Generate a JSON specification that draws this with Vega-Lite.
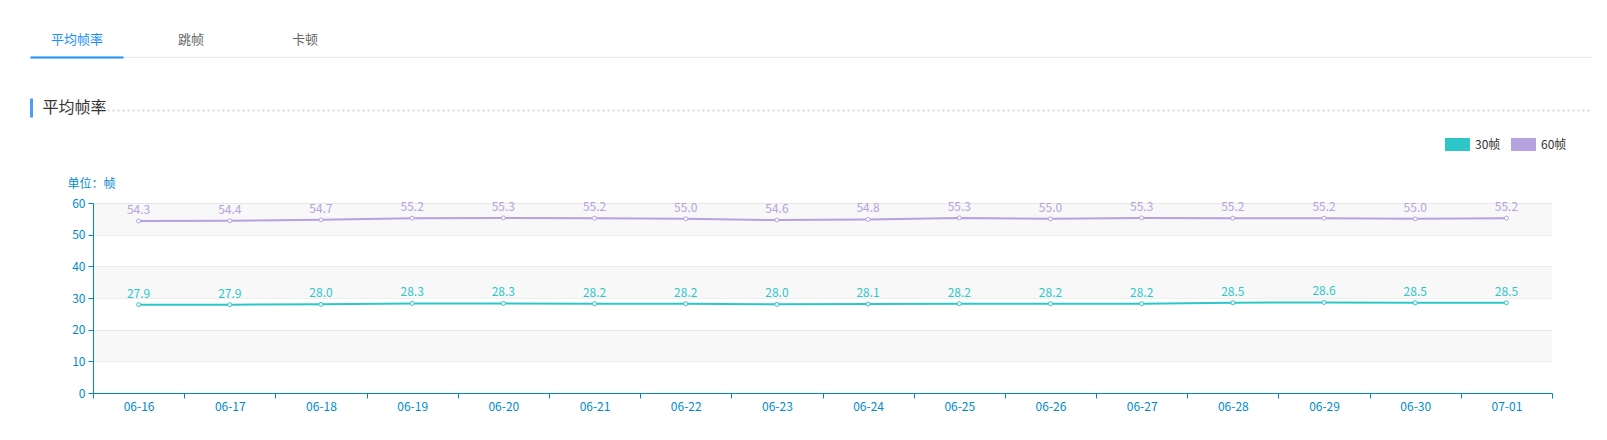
{
  "$schema": "https://vega.github.io/schema/vega-lite/v6.json",
  "width": 1459,
  "height": 190,
  "autosize": {"type": "none"},
  "padding": {"left": 93, "top": 203, "right": 55, "bottom": 47},
  "background": "white",
  "config": {"font": "Noto Sans CJK SC", "view": {"stroke": null}, "axis": {"grid": false}},
  "resolve": {"scale": {"x": "independent", "y": "independent"}},
  "layer": [
    {
      "data": {"values": [{"g": "line"}]},
      "mark": {"type": "point", "opacity": 0},
      "encoding": {
        "x": {
          "field": "g", "type": "nominal",
          "scale": {"type": "band", "domain": ["line"], "range": [-63, 1499]},
          "axis": {"orient": "top", "offset": 146, "title": null, "ticks": false, "labels": false, "domainColor": "#e3ebf3", "domainWidth": 1}
        }
      }
    },
    {
      "data": {"values": [{"tab": "平均帧率"}, {"tab": "跳帧"}, {"tab": "卡顿"}]},
      "mark": {"type": "point", "opacity": 0},
      "encoding": {
        "x": {
          "field": "tab", "type": "nominal", "sort": null,
          "scale": {"type": "band", "domain": ["平均帧率", "跳帧", "卡顿"], "range": [-73, 269], "paddingInner": 0, "paddingOuter": 0},
          "axis": {"orient": "top", "offset": 146, "title": null, "ticks": false, "tickSize": 0, "domain": false, "labelPadding": 11, "labelFontSize": 13, "labelAngle": 0, "labelFontWeight": "normal",
            "labelColor": {"condition": {"test": "datum.value === '平均帧率'", "value": "#1890ff"}, "value": "#666666"}}
        }
      }
    },
    {
      "data": {"values": [{"u": "active"}]},
      "mark": {"type": "point", "opacity": 0},
      "encoding": {
        "x": {
          "field": "u", "type": "nominal",
          "scale": {"type": "band", "domain": ["active"], "range": [-63, 30]},
          "axis": {"orient": "top", "offset": 146, "title": null, "ticks": false, "labels": false, "domainColor": "#1890ff", "domainWidth": 2, "zindex": 2}
        }
      }
    },
    {
      "data": {"values": [{"d": "section"}]},
      "mark": {"type": "point", "opacity": 0},
      "encoding": {
        "x": {
          "field": "d", "type": "nominal",
          "scale": {"type": "band", "domain": ["section"], "range": [14, 1499]},
          "axis": {"orient": "top", "offset": 93, "ticks": false, "labels": false, "domainColor": "#d9d9d9", "domainWidth": 2, "domainDash": [2, 3],
            "title": "平均帧率", "titleX": -51, "titleY": -3, "titleAlign": "left", "titleBaseline": "middle", "titleAngle": 0, "titleFontSize": 16, "titleFontWeight": "normal", "titleColor": "#333333"}
        }
      }
    },
    {
      "data": {"values": [{"s": "section"}]},
      "mark": {"type": "point", "opacity": 0},
      "encoding": {
        "y": {
          "field": "s", "type": "nominal",
          "scale": {"type": "band", "domain": ["section"], "range": [-86, -105]},
          "axis": {"orient": "left", "offset": 62, "title": null, "ticks": false, "labels": false, "domainColor": "#4f9cf7", "domainWidth": 3}
        }
      }
    },
    {
      "layer": [
        {
          "data": {"values": [{"lo": 10, "hi": 20}, {"lo": 30, "hi": 40}, {"lo": 50, "hi": 60}]},
          "mark": {"type": "rect", "fill": "#000000", "fillOpacity": 0.028},
          "encoding": {
            "y": {"field": "lo", "type": "quantitative", "scale": {"domain": [0, 60]},
              "axis": {"orient": "left", "values": [0, 10, 20, 30, 40, 50, 60], "grid": true, "gridColor": "#eeeeee", "tickSize": 5, "tickColor": "#008acd", "domainColor": "#008acd", "labelColor": "#008acd", "labelFontSize": 12, "labelPadding": 3, "zindex": 0,
                "title": "单位：帧", "titleAngle": 0, "titleX": -26, "titleY": -20, "titleAlign": "left", "titleBaseline": "middle", "titleFontSize": 12, "titleFontWeight": "normal", "titleColor": "#008acd"}},
            "y2": {"field": "hi"}
          }
        },
        {
          "data": {"values": [
            {"date": "06-16", "series": "30帧", "fps": 27.9},
            {"date": "06-17", "series": "30帧", "fps": 27.9},
            {"date": "06-18", "series": "30帧", "fps": 28.0},
            {"date": "06-19", "series": "30帧", "fps": 28.3},
            {"date": "06-20", "series": "30帧", "fps": 28.3},
            {"date": "06-21", "series": "30帧", "fps": 28.2},
            {"date": "06-22", "series": "30帧", "fps": 28.2},
            {"date": "06-23", "series": "30帧", "fps": 28.0},
            {"date": "06-24", "series": "30帧", "fps": 28.1},
            {"date": "06-25", "series": "30帧", "fps": 28.2},
            {"date": "06-26", "series": "30帧", "fps": 28.2},
            {"date": "06-27", "series": "30帧", "fps": 28.2},
            {"date": "06-28", "series": "30帧", "fps": 28.5},
            {"date": "06-29", "series": "30帧", "fps": 28.6},
            {"date": "06-30", "series": "30帧", "fps": 28.5},
            {"date": "07-01", "series": "30帧", "fps": 28.5},
            {"date": "06-16", "series": "60帧", "fps": 54.3},
            {"date": "06-17", "series": "60帧", "fps": 54.4},
            {"date": "06-18", "series": "60帧", "fps": 54.7},
            {"date": "06-19", "series": "60帧", "fps": 55.2},
            {"date": "06-20", "series": "60帧", "fps": 55.3},
            {"date": "06-21", "series": "60帧", "fps": 55.2},
            {"date": "06-22", "series": "60帧", "fps": 55.0},
            {"date": "06-23", "series": "60帧", "fps": 54.6},
            {"date": "06-24", "series": "60帧", "fps": 54.8},
            {"date": "06-25", "series": "60帧", "fps": 55.3},
            {"date": "06-26", "series": "60帧", "fps": 55.0},
            {"date": "06-27", "series": "60帧", "fps": 55.3},
            {"date": "06-28", "series": "60帧", "fps": 55.2},
            {"date": "06-29", "series": "60帧", "fps": 55.2},
            {"date": "06-30", "series": "60帧", "fps": 55.0},
            {"date": "07-01", "series": "60帧", "fps": 55.2}
          ]},
          "encoding": {
            "x": {
              "field": "date", "type": "ordinal", "sort": null, "bandPosition": 0.5,
              "scale": {"type": "band", "paddingInner": 0, "paddingOuter": 0},
              "axis": {"orient": "bottom", "title": null, "tickBand": "extent", "tickSize": 5, "tickColor": "#008acd", "domainColor": "#008acd", "labelColor": "#008acd", "labelFontSize": 12, "labelPadding": 3, "labelAngle": 0, "zindex": 1}
            },
            "y": {
              "field": "fps", "type": "quantitative",
              "axis": {"orient": "left", "values": [0, 10, 20, 30, 40, 50, 60], "grid": true, "gridColor": "#eeeeee", "tickSize": 5, "tickColor": "#008acd", "domainColor": "#008acd", "labelColor": "#008acd", "labelFontSize": 12, "labelPadding": 3, "zindex": 0,
                "title": "单位：帧", "titleAngle": 0, "titleX": -26, "titleY": -20, "titleAlign": "left", "titleBaseline": "middle", "titleFontSize": 12, "titleFontWeight": "normal", "titleColor": "#008acd"}
            },
            "color": {
              "field": "series", "type": "nominal",
              "scale": {"domain": ["30帧", "60帧"], "range": ["#2ec7c9", "#b6a2de"]},
              "legend": {"orient": "none", "legendX": 1352, "legendY": -71, "direction": "horizontal", "title": null, "symbolType": "M-1,-0.52H1V0.52H-1Z", "symbolSize": 625, "symbolStrokeWidth": 0, "labelFontSize": 12, "labelFontWeight": "normal", "labelColor": "#333333", "labelOffset": 5, "columnPadding": 10, "padding": 0,
                "encode": {"symbols": {"update": {"fill": {"scale": "color", "field": "value"}, "fillOpacity": {"value": 1}, "strokeWidth": {"value": 0}}}}}
            }
          },
          "layer": [
            {"mark": {"type": "line", "strokeWidth": 2}},
            {"mark": {"type": "point", "filled": false, "fill": "white", "fillOpacity": 1, "size": 16, "strokeWidth": 1, "opacity": 1}},
            {"mark": {"type": "text", "dy": -11, "fontSize": 12, "baseline": "middle"}, "encoding": {"text": {"field": "fps", "type": "quantitative", "format": ".1f"}}}
          ]
        }
      ]
    }
  ]
}
